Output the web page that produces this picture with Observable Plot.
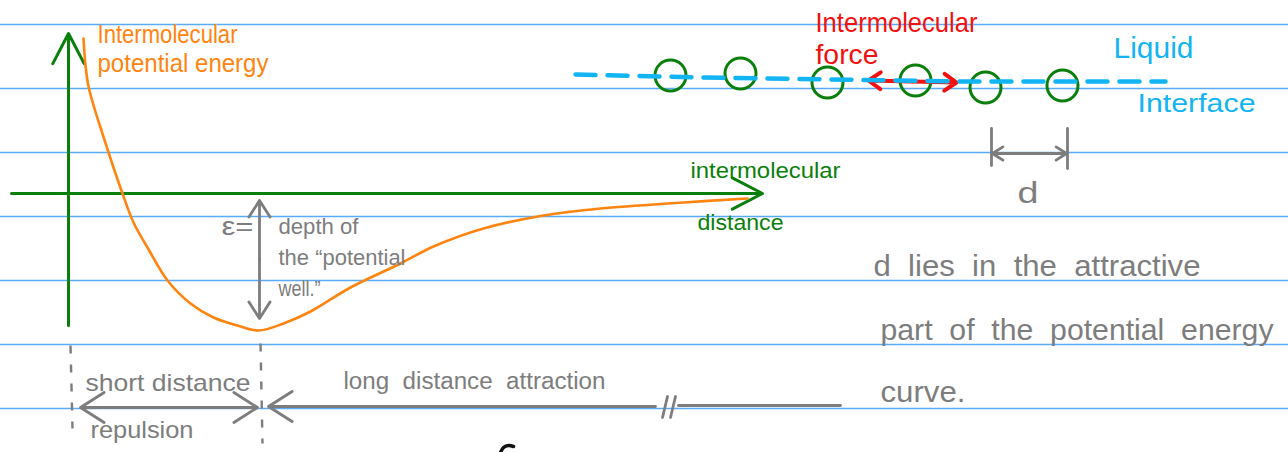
<!DOCTYPE html>
<html><head><meta charset="utf-8">
<script src="https://cdn.jsdelivr.net/npm/d3@7"></script>
<script src="https://cdn.jsdelivr.net/npm/@observablehq/plot@0.6"></script>
<style>html,body{margin:0;padding:0;background:#fff;overflow:hidden}svg{display:block}</style>
</head><body><div id="chart"></div>
<script>
// notebook ruling
const ruledLines = [24, 88, 152, 216, 280, 344, 408];

// potential energy curve (sketch coordinates)
const curveX = [83, 85, 88, 94, 100, 113, 122, 133, 147, 167, 190, 213, 237, 258, 283, 310, 350, 400, 433, 483, 543, 600, 683, 747];
const curveY = [38, 65, 86, 108, 127, 167, 193, 222, 247, 280, 303, 317, 325, 330, 323, 311, 287, 263, 246, 228, 215, 208, 202, 198];

// molecules along the liquid interface
const moleculeX = [670, 740, 827, 915, 985, 1062];
const moleculeY = [75, 73, 82, 80, 87, 85];
const interfaceX = [575, 700, 830, 960, 1165];
const interfaceY = [74, 77, 79, 81, 81];

// label texts
const labelTexts = [
  "Intermolecular", "potential energy",
  "ε=", "depth of", "the “potential", "well.”",
  "short distance", "repulsion", "long  distance  attraction",
  "intermolecular", "distance",
  "Intermolecular", "force",
  "Liquid", "Interface", "d",
  "d  lies  in  the  attractive", "part  of  the  potential  energy", "curve."
];

const GREEN = "#0b7f0b", ORANGE = "#ff8410", GRAY = "#7d7d7d", RED = "#f21010", CYAN = "#12b4f2", RULE = "#5aaaf8";

const labelLayout = [
  {x: 97, y: 34, w: 140, s: 25, c: ORANGE},
  {x: 97, y: 63, w: 171, s: 25, c: ORANGE},
  {x: 221, y: 226, w: 32, s: 25, c: GRAY},
  {x: 278, y: 226, w: 80, s: 22, c: GRAY},
  {x: 278, y: 257, w: 127, s: 22, c: GRAY},
  {x: 278, y: 288, w: 42, s: 22, c: GRAY},
  {x: 85, y: 383, w: 165, s: 24, c: GRAY},
  {x: 90, y: 430, w: 103, s: 24, c: GRAY},
  {x: 343, y: 381, w: 262, s: 23, c: GRAY},
  {x: 690, y: 170, w: 150, s: 22, c: GREEN},
  {x: 697, y: 222, w: 86, s: 22, c: GREEN},
  {x: 815, y: 23, w: 162, s: 28, c: RED},
  {x: 815, y: 55, w: 63, s: 27, c: RED},
  {x: 1113, y: 48, w: 80, s: 30, c: CYAN},
  {x: 1137, y: 103, w: 118, s: 26, c: CYAN},
  {x: 1017, y: 193, w: 21, s: 29, c: GRAY},
  {x: 873, y: 266, w: 327, s: 30, c: GRAY},
  {x: 880, y: 330, w: 393, s: 30, c: GRAY},
  {x: 880, y: 392, w: 85, s: 30, c: GRAY}
];
const labels = labelTexts.map((t, i) => ({text: t, ...labelLayout[i]}));

const curve = curveX.map((x, i) => ({x, y: curveY[i]}));
const molecules = moleculeX.map((x, i) => ({x, y: moleculeY[i]}));
const iface = interfaceX.map((x, i) => ({x, y: interfaceY[i]}));

const axes = [
  {x1: 68, y1: 325, x2: 68, y2: 33},
  {x1: 11, y1: 193, x2: 762, y2: 193}
];
const grayArrows = [
  {x1: 259, y1: 259, x2: 259, y2: 200},
  {x1: 259, y1: 259, x2: 259, y2: 318},
  {x1: 169, y1: 407, x2: 80, y2: 407},
  {x1: 169, y1: 407, x2: 257, y2: 407},
  {x1: 655, y1: 406, x2: 268, y2: 406},
  {x1: 1029, y1: 153, x2: 992, y2: 153},
  {x1: 1029, y1: 153, x2: 1066, y2: 153}
];
const graySegments = [
  {x1: 678, y1: 405, x2: 840, y2: 405},
  {x1: 667, y1: 396, x2: 662, y2: 417},
  {x1: 675, y1: 396, x2: 670, y2: 417},
  {x1: 991, y1: 128, x2: 991, y2: 165},
  {x1: 1067, y1: 128, x2: 1067, y2: 168}
];
const grayDashed = [
  {x1: 70, y1: 345, x2: 72, y2: 428},
  {x1: 260, y1: 343, x2: 262, y2: 443}
];
const redArrows = [
  {x1: 912, y1: 81, x2: 868, y2: 80},
  {x1: 912, y1: 81, x2: 956, y2: 82}
];
// fragment of ink at the bottom edge
const inkX = [500, 503, 508, 513];
const inkY = [452, 447, 445, 446];
const ink = inkX.map((x, i) => ({x, y: inkY[i]}));

const chart = Plot.plot({
  width: 1288, height: 452, margin: 0,
  x: {domain: [0, 1288], range: [0, 1288], axis: null},
  y: {domain: [0, 452], range: [0, 452], axis: null},
  color: {type: "identity"},
  style: {background: "#fff"},
  marks: [
    Plot.ruleY(ruledLines, {stroke: RULE, strokeWidth: 1.6}),
    Plot.arrow(axes, {x1: "x1", y1: "y1", x2: "x2", y2: "y2", stroke: GREEN, strokeWidth: 3, headLength: 17, headAngle: 55}),
    Plot.line(curve, {x: "x", y: "y", curve: "catmull-rom", stroke: ORANGE, strokeWidth: 2.6, strokeLinecap: "round"}),
    Plot.arrow(grayArrows, {x1: "x1", y1: "y1", x2: "x2", y2: "y2", stroke: GRAY, strokeWidth: 2.8, headLength: 15, headAngle: 65}),
    Plot.link(graySegments, {x1: "x1", y1: "y1", x2: "x2", y2: "y2", stroke: GRAY, strokeWidth: 2.8, strokeLinecap: "round"}),
    Plot.link(grayDashed, {x1: "x1", y1: "y1", x2: "x2", y2: "y2", stroke: GRAY, strokeWidth: 2.4, strokeDasharray: "8,11"}),
    Plot.dot(molecules, {x: "x", y: "y", r: 15.5, stroke: GREEN, strokeWidth: 3, fill: "none"}),
    Plot.arrow(redArrows, {x1: "x1", y1: "y1", x2: "x2", y2: "y2", stroke: RED, strokeWidth: 4, headLength: 11, headAngle: 70}),
    Plot.line(iface, {x: "x", y: "y", stroke: CYAN, strokeWidth: 4.5, strokeDasharray: "20,12", strokeLinecap: "round"}),
    Plot.line(ink, {x: "x", y: "y", curve: "natural", stroke: "#111", strokeWidth: 3.5, strokeLinecap: "round"}),
    Plot.text(labels, {x: "x", y: "y", text: "text", fill: "c", fontSize: "s", textAnchor: "start", lineAnchor: "middle", fontFamily: "Liberation Sans, Arial, sans-serif"})
  ]
});
document.getElementById("chart").append(chart);
const textEls = chart.querySelectorAll("g[aria-label='text'] text");
textEls.forEach((el, i) => {
  if (labels[i]) {
    el.setAttribute("textLength", labels[i].w);
    el.setAttribute("lengthAdjust", "spacingAndGlyphs");
  }
});
</script>
</body></html>
